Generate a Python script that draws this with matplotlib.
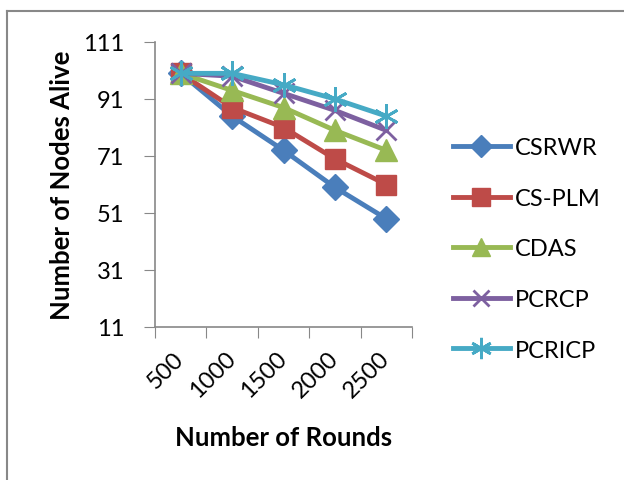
import numpy as np
import matplotlib.pyplot as plt
import matplotlib.transforms as mtransforms
from matplotlib.lines import Line2D

plt.rcParams['font.family'] = ['Lato', 'DejaVu Sans']

rounds = ['500', '1000', '1500', '2000', '2500']
csrwr = [100, 85, 73, 60, 49]
csplm = [100, 88, 81, 70, 61]
cdas = [100, 94, 88, 80, 73]
pcrcp = [100, 99, 93, 87, 80]
pcricp = [100, 100, 96, 91, 85]
names = ['CSRWR', 'CS-PLM', 'CDAS', 'PCRCP', 'PCRICP']
yticks = [11, 31, 51, 71, 91, 111]

W, H = 624, 481
fig = plt.figure(figsize=(W/100, H/100), dpi=100)
ax = fig.add_axes([155/W, 1-328/H, (412-155)/W, (328-43)/H])

x = np.arange(len(rounds))
ax.plot(x, csrwr, color='#4A7EBB', lw=3.5, marker='D', ms=13, label=names[0])
ax.plot(x, csplm, color='#BE4B48', lw=3.5, marker='s', ms=15, label=names[1])
ax.plot(x, cdas, color='#98B954', lw=3.5, marker='^', ms=16, label=names[2])
ax.plot(x, pcrcp, color='#7D60A0', lw=3.5, marker='x', ms=14, mew=2, label=names[3])
ax.plot(x, pcricp, color='#46AAC5', lw=3.5, marker=(6, 2, 0), ms=18, mew=2, label=names[4])

ax.set_xlim(-0.5, len(rounds)-0.5)
ax.set_ylim(11, 111)
ax.set_yticks(yticks)
ax.set_xticks(np.arange(len(rounds)+1)-0.5)
ax.set_xticklabels([])
ax.set_xticks(x, minor=True)
ax.set_xticklabels(rounds, minor=True, rotation=45, ha='right', va='center',
                   rotation_mode='anchor', fontsize=17)
shift = mtransforms.ScaledTranslation(6/100, 0, fig.dpi_scale_trans)
for lab in ax.get_xticklabels(minor=True):
    lab.set_transform(lab.get_transform() + shift)
ax.tick_params(axis='x', which='minor', length=0, pad=20)
ax.tick_params(axis='x', which='major', length=8, color='#888888')
ax.tick_params(axis='y', length=8, color='#888888', labelsize=17, pad=14)
for s in ['top', 'right']:
    ax.spines[s].set_visible(False)
for s in ['left', 'bottom']:
    ax.spines[s].set_color('#888888')
    ax.spines[s].set_linewidth(1.2)

ax.set_ylabel('Number of Nodes Alive', fontsize=18.5, fontweight='bold', va='center', ha='center')
ax.yaxis.set_label_coords((62-155)/(412-155), 0.5)
ax.set_xlabel('Number of Rounds', fontsize=18.5, fontweight='bold', va='center', ha='center')
ax.xaxis.set_label_coords(0.5, -(438-328)/(328-43))

ax.legend(loc='center left', bbox_to_anchor=(453/W, 1-250/H), bbox_transform=fig.transFigure,
          frameon=False, fontsize=17, handlelength=2.4, labelspacing=1.25,
          handletextpad=0.2, borderpad=0, borderaxespad=0, markerscale=0.85)

# outer frame of the cropped chart
fig.add_artist(Line2D([7/W, 1], [1-12/H, 1-12/H], color='#888888', lw=1.5))
fig.add_artist(Line2D([7/W, 7/W], [0, 1-12/H], color='#888888', lw=1.5))

fig.savefig('out.png', dpi=100)
